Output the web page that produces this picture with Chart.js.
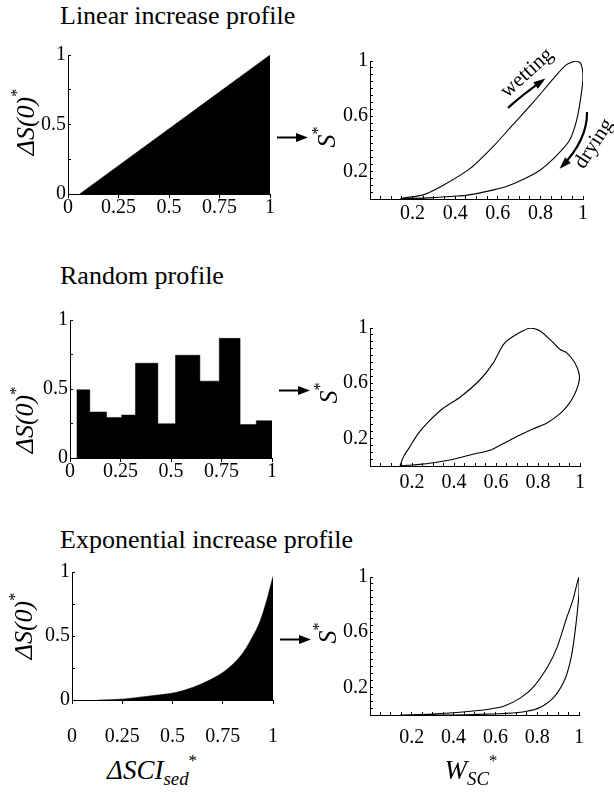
<!DOCTYPE html>
<html>
<head>
<meta charset="utf-8">
<script src="https://cdn.jsdelivr.net/npm/chart.js@4.4.1/dist/chart.umd.min.js"></script>
<style>
  body { margin: 0; background: #fff; width: 614px; height: 795px; position: relative; overflow: hidden;
         font-family: 'Liberation Serif', 'Times New Roman', serif; color: #000; }
  canvas { position: absolute; }
  .t { position: absolute; white-space: nowrap; line-height: 1; font-family: 'Liberation Serif', serif; }
  .title { font-size: 26px; left: 60px; }
  .rot { font-style: italic; font-size: 26px; transform: translate(-50%, -50%) rotate(-90deg); }
  .ax { font-style: italic; font-size: 27px; transform: translate(-50%, -50%); }
  .sup { font-size: 0.62em; vertical-align: 0.75em; font-style: normal; }
  .sub { font-size: 0.7em; vertical-align: -0.35em; }
</style>
</head>
<body>
<canvas id="l1"></canvas>
<canvas id="l2"></canvas>
<canvas id="l3"></canvas>
<canvas id="r1"></canvas>
<canvas id="r2"></canvas>
<canvas id="r3"></canvas>

<div class="t title" style="top:3px">Linear increase profile</div>
<div class="t title" style="top:263px">Random profile</div>
<div class="t title" style="top:527px">Exponential increase profile</div>

<div class="t rot" style="left:24px;top:122px">ΔS(0)<span class="sup">*</span></div>
<div class="t rot" style="left:23px;top:420px">ΔS(0)<span class="sup">*</span></div>
<div class="t rot" style="left:22px;top:626px">ΔS(0)<span class="sup">*</span></div>

<div class="t rot" style="left:325px;top:137px">S<span class="sup">*</span></div>
<div class="t rot" style="left:327px;top:393px">S<span class="sup">*</span></div>
<div class="t rot" style="left:326px;top:633px">S<span class="sup">*</span></div>

<div class="t ax" style="left:152px;top:771px">ΔSCI<span class="sub">sed</span><span class="sup">*</span></div>
<div class="t ax" style="left:471px;top:771px">W<span class="sub">SC</span><span class="sup">*</span></div>

<script>
// tick labels
const xTicksLeft = [0, 0.25, 0.5, 0.75, 1];
const yTicksLeft = [0, 0.5, 1];
const xTicksRight = [0.2, 0.4, 0.6, 0.8, 1];
const yTicksRight = [0.2, 0.6, 1];

// linear increase profile (top edge of the filled area)
const linX = [0.058, 1];
const linY = [0, 1];

// random profile: left edge of each block and its height, last edge closes it
const randEdges = [0.032, 0.098, 0.181, 0.256, 0.324, 0.435, 0.522, 0.643, 0.739, 0.842, 0.922, 1.0];
const randHeights = [0.494, 0.333, 0.294, 0.311, 0.687, 0.248, 0.745, 0.557, 0.867, 0.243, 0.27];

// exponential increase profile
const expX = [0.13, 0.256, 0.355, 0.455, 0.52, 0.603, 0.669, 0.752, 0.80, 0.851, 0.90, 0.934, 0.967, 1.0];
const expY = [0, 0.008, 0.026, 0.044, 0.06, 0.10, 0.144, 0.217, 0.28, 0.37, 0.50, 0.61, 0.77, 0.966];

// hysteresis loops S* vs W_SC*
const loopLinX = [0.14, 0.156, 0.25, 0.344, 0.469, 0.578, 0.672, 0.766, 0.86, 0.92, 0.969, 0.99, 1.0, 0.99, 0.97, 0.935, 0.86, 0.80, 0.73, 0.64, 0.55, 0.45, 0.39, 0.30, 0.14];
const loopLinY = [0.0, 0.007, 0.03, 0.10, 0.22, 0.38, 0.54, 0.70, 0.87, 0.97, 1.0, 0.98, 0.88, 0.74, 0.57, 0.42, 0.29, 0.21, 0.15, 0.09, 0.055, 0.026, 0.02, 0.01, 0.0];

const loopRandX = [0.143, 0.159, 0.19, 0.23, 0.278, 0.35, 0.43, 0.524, 0.587, 0.635, 0.683, 0.762, 0.81, 0.857, 0.905, 0.937, 0.976, 0.997, 0.992, 0.968, 0.937, 0.905, 0.84, 0.778, 0.714, 0.635, 0.571, 0.49, 0.397, 0.30, 0.238, 0.175, 0.143];
const loopRandY = [0, 0.066, 0.14, 0.236, 0.32, 0.42, 0.50, 0.625, 0.747, 0.88, 0.94, 1.0, 0.978, 0.917, 0.844, 0.82, 0.747, 0.66, 0.59, 0.50, 0.43, 0.38, 0.31, 0.27, 0.224, 0.163, 0.114, 0.085, 0.049, 0.024, 0.012, 0.005, 0];

const loopExpX = [0.144, 0.30, 0.43, 0.56, 0.64, 0.72, 0.78, 0.85, 0.895, 0.94, 0.97, 1.0, 1.0, 0.98, 0.96, 0.93, 0.88, 0.815, 0.75, 0.655, 0.46, 0.30, 0.144];
const loopExpY = [0, 0.007, 0.02, 0.04, 0.063, 0.124, 0.20, 0.35, 0.49, 0.70, 0.83, 1.0, 0.88, 0.59, 0.40, 0.25, 0.13, 0.056, 0.027, 0.012, 0.002, 0, 0];

const pts = (xs, ys) => xs.map((x, i) => ({ x, y: ys[i] }));
const near = (list, v) => list.some((t) => Math.abs(t - v) < 1e-6);
const FONT = "'Liberation Serif', 'Times New Roman', serif";

function decoPlugin(spec) {
  return {
    id: "deco",
    afterDraw(chart) {
      const ctx = chart.ctx, xs = chart.scales.x, ys = chart.scales.y, ca = chart.chartArea;
      const px = (p) => [xs.getPixelForValue(p[0]), ys.getPixelForValue(p[1])];
      ctx.save();
      ctx.strokeStyle = "#000";
      ctx.fillStyle = "#000";
      if (spec.arrowY != null) {
        const y = Math.round(ys.getPixelForValue(spec.arrowY)) + 0.5;
        const x0 = ca.right + 7, x1 = ca.right + 38;
        ctx.lineWidth = 2;
        ctx.beginPath(); ctx.moveTo(x0, y); ctx.lineTo(x1 - 8, y); ctx.stroke();
        ctx.beginPath(); ctx.moveTo(x1, y); ctx.lineTo(x1 - 12, y - 4.5); ctx.lineTo(x1 - 12, y + 4.5); ctx.closePath(); ctx.fill();
      }
      (spec.curves || []).forEach((c) => {
        const s = px(c[0]), m = px(c[1]), e = px(c[2]);
        const cx = 2 * m[0] - (s[0] + e[0]) / 2, cy = 2 * m[1] - (s[1] + e[1]) / 2;
        ctx.lineWidth = 2.2;
        ctx.beginPath(); ctx.moveTo(s[0], s[1]); ctx.quadraticCurveTo(cx, cy, e[0], e[1]); ctx.stroke();
        const a = Math.atan2(e[1] - cy, e[0] - cx);
        ctx.beginPath();
        ctx.moveTo(e[0] + 3 * Math.cos(a), e[1] + 3 * Math.sin(a));
        ctx.lineTo(e[0] - 9 * Math.cos(a) + 4 * Math.sin(a), e[1] - 9 * Math.sin(a) - 4 * Math.cos(a));
        ctx.lineTo(e[0] - 9 * Math.cos(a) - 4 * Math.sin(a), e[1] - 9 * Math.sin(a) + 4 * Math.cos(a));
        ctx.closePath(); ctx.fill();
      });
      (spec.notes || []).forEach((n) => {
        const p = px(n.at);
        ctx.save();
        ctx.translate(p[0], p[1]);
        ctx.rotate(n.angle * Math.PI / 180);
        ctx.font = "21px " + FONT;
        ctx.textAlign = "center";
        ctx.textBaseline = "middle";
        ctx.fillText(n.text, 0, 0);
        ctx.restore();
      });
      ctx.restore();
    }
  };
}

function makePanel(id, box, datasets, side, spec) {
  const cv = document.getElementById(id);
  cv.style.left = box.left + "px";
  cv.style.top = box.top + "px";
  cv.width = box.width;
  cv.height = box.height;
  const left = side === "left";
  const tickFont = { family: FONT, size: 20, lineHeight: 1 };
  new Chart(cv, {
    type: "line",
    data: { datasets },
    options: {
      responsive: false,
      animation: false,
      events: [],
      layout: { padding: { left: 0, right: box.padR, top: box.padT, bottom: 0 } },
      plugins: { legend: { display: false }, tooltip: { enabled: false } },
      elements: { point: { radius: 0 } },
      scales: {
        x: {
          type: "linear", min: 0, max: 1,
          border: { display: true, color: "#000", width: 1 },
          grid: { drawOnChartArea: false, drawTicks: true, tickLength: left ? 4 : -3, color: "#000" },
          ticks: {
            stepSize: left ? 0.25 : 0.05, autoSkip: false, maxRotation: 0, color: "#000", font: tickFont,
            padding: box.xPad,
            callback: (v) => near(left ? xTicksLeft : xTicksRight, v) ? String(+v.toFixed(2)) : ""
          },
          afterFit: (s) => { s.height = box.xh; }
        },
        y: {
          type: "linear", min: 0, max: 1,
          border: { display: true, color: "#000", width: 1 },
          grid: { drawOnChartArea: false, drawTicks: true, tickLength: -3, color: "#000" },
          ticks: {
            stepSize: left ? 0.25 : 0.05, autoSkip: false, color: "#000", font: tickFont,
            padding: 5,
            callback: (v) => near(left ? yTicksLeft : yTicksRight, v) ? String(+v.toFixed(2)) : ""
          },
          afterFit: (s) => { s.width = box.yw; }
        }
      }
    },
    plugins: [decoPlugin(spec || {})]
  });
}

const filled = (data, extra) => Object.assign({ data, fill: "origin", backgroundColor: "#000", borderColor: "#000", borderWidth: 0.5, tension: 0 }, extra || {});
const loop = (data) => ({ data, fill: false, borderColor: "#000", borderWidth: 1.1, tension: 0.25 });

const randData = pts(randEdges, randHeights.concat([randHeights[randHeights.length - 1]]));

makePanel("l1", { left: 0, top: 40, width: 312, height: 184, yw: 68, padR: 42, padT: 15, xh: 30, xPad: 0 },
  [filled(pts(linX, linY))], "left", { arrowY: 0.41 });
makePanel("l2", { left: 0, top: 305, width: 312, height: 183, yw: 70, padR: 40, padT: 15, xh: 30, xPad: 0 },
  [filled(randData, { stepped: true })], "left", { arrowY: 0.49 });
makePanel("l3", { left: 0, top: 557, width: 312, height: 193, yw: 72, padR: 39, padT: 15, xh: 50, xPad: 23 },
  [filled(pts(expX, expY), { cubicInterpolationMode: "monotone" })], "left", { arrowY: 0.477 });

makePanel("r1", { left: 305, top: 46, width: 309, height: 188, yw: 65, padR: 31, padT: 15, xh: 35, xPad: 8 },
  [loop(pts(loopLinX, loopLinY))], "right", {
    curves: [
      [[0.648, 0.66], [0.72, 0.755], [0.812, 0.86]],
      [[1.019, 0.63], [0.99, 0.43], [0.90, 0.235]]
    ],
    notes: [
      { text: "wetting", at: [0.737, 0.913], angle: -42 },
      { text: "drying", at: [1.052, 0.40], angle: -57 }
    ]
  });
makePanel("r2", { left: 305, top: 313, width: 309, height: 188, yw: 65, padR: 34, padT: 15, xh: 35, xPad: 10 },
  [loop(pts(loopRandX, loopRandY))], "right");
makePanel("r3", { left: 305, top: 562, width: 309, height: 193, yw: 65, padR: 35, padT: 15, xh: 40, xPad: 16 },
  [loop(pts(loopExpX, loopExpY))], "right");
</script>
</body>
</html>
